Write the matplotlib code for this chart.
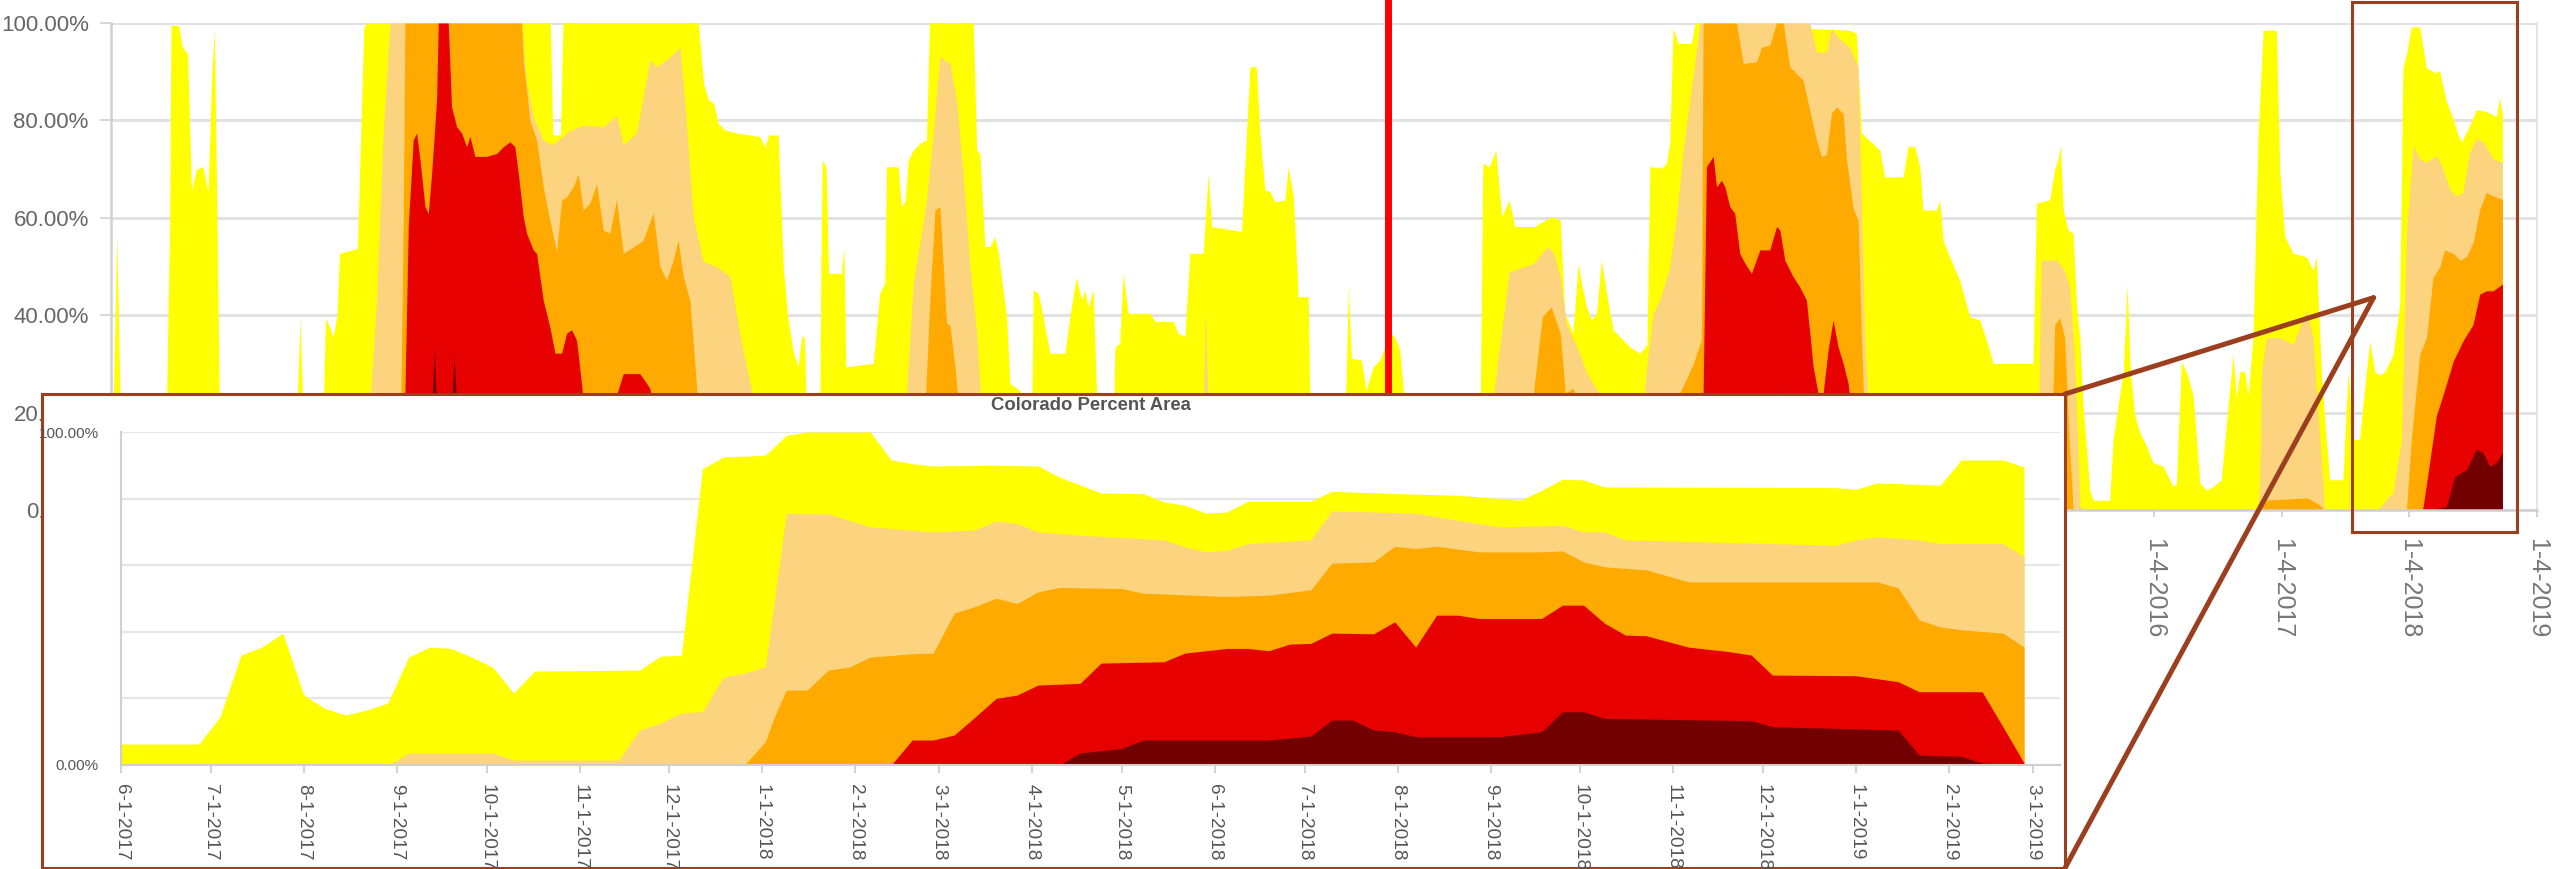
import matplotlib
matplotlib.use("Agg")
import matplotlib.pyplot as plt
import pandas as pd
from matplotlib.patches import Rectangle, ConnectionPatch

plt.rcParams['font.family'] = ['Liberation Sans', 'DejaVu Sans']

# ---------------- data ----------------
CATEGORIES = ['D0-D4', 'D1-D4', 'D2-D4', 'D3-D4', 'D4']
COLORS = ['#FFFF00', '#FCD37F', '#FFAA00', '#E60000', '#730000']

# Main chart: cumulative percent area, x in decimal years
main_d0_year = [2000.00, 2000.02, 2000.045, 2000.07, 2000.09, 2000.43, 2000.46, 2000.47, 2000.53, 2000.56,
                2000.60, 2000.63, 2000.67, 2000.72, 2000.76, 2000.79, 2000.81, 2000.83, 2000.85, 2001.45,
                2001.48, 2001.51, 2001.66, 2001.68, 2001.72, 2001.74, 2001.77, 2001.79, 2001.93, 2001.98,
                2002.00, 2003.44, 2003.46, 2003.52, 2003.54, 2004.60, 2004.64, 2004.68, 2004.72, 2004.755,
                2004.81, 2004.90, 2005.08, 2005.12, 2005.15, 2005.225, 2005.265, 2005.30, 2005.34, 2005.38,
                2005.41, 2005.43, 2005.45, 2005.55, 2005.56, 2005.57, 2005.60, 2005.62, 2005.72, 2005.74,
                2005.755, 2005.97, 2006.02, 2006.06, 2006.074, 2006.165, 2006.19, 2006.22, 2006.244, 2006.283,
                2006.335, 2006.387, 2006.41, 2006.753, 2006.78, 2006.805, 2006.844, 2006.883, 2006.922, 2006.95,
                2007.014, 2007.04, 2007.118, 2007.17, 2007.21, 2007.222, 2007.262, 2007.30, 2007.353, 2007.47,
                2007.51, 2007.56, 2007.60, 2007.627, 2007.653, 2007.692, 2007.73, 2007.85, 2007.862, 2007.90,
                2007.927, 2007.966, 2008.136, 2008.175, 2008.32, 2008.358, 2008.41, 2008.45, 2008.554, 2008.593,
                2008.62, 2008.854, 2008.893, 2008.92, 2008.97, 2008.998, 2009.037, 2009.076, 2009.115, 2009.193,
                2009.22, 2009.26, 2009.298, 2009.376, 2009.394, 2009.663, 2009.69, 2009.715, 2009.793, 2009.83,
                2009.885, 2009.937, 2010.015, 2010.054, 2010.094, 2010.136, 2010.723, 2010.744, 2010.793, 2010.846,
                2010.891, 2010.95, 2010.996, 2011.143, 2011.283, 2011.35, 2011.386, 2011.45, 2011.49, 2011.517,
                2011.556, 2011.595, 2011.634, 2011.673, 2011.712, 2011.765, 2011.895, 2011.973, 2012.03, 2012.052,
                2012.143, 2012.182, 2012.208, 2012.234, 2012.274, 2012.378, 2012.404, 2013.618, 2013.67, 2013.709,
                2013.853, 2013.892, 2014.035, 2014.074, 2014.127, 2014.166, 2014.192, 2014.296, 2014.322, 2014.349,
                2014.388, 2014.479, 2014.557, 2014.636, 2014.688, 2014.74, 2015.053, 2015.08, 2015.184, 2015.223,
                2015.25, 2015.268, 2015.289, 2015.328, 2015.367, 2015.393, 2015.419, 2015.445, 2015.497, 2015.524,
                2015.654, 2015.68, 2015.72, 2015.76, 2015.79, 2015.816, 2015.85, 2015.89, 2015.94, 2015.993,
                2016.072, 2016.15, 2016.176, 2016.215, 2016.254, 2016.307, 2016.36, 2016.411, 2016.463, 2016.528,
                2016.568, 2016.62, 2016.646, 2016.672, 2016.711, 2016.737, 2016.776, 2016.816, 2016.855, 2016.959,
                2016.985, 2017.024, 2017.09, 2017.194, 2017.246, 2017.272, 2017.311, 2017.35, 2017.377, 2017.48,
                2017.52, 2017.559, 2017.61, 2017.65, 2017.69, 2017.73, 2017.768, 2017.807, 2017.873, 2017.925,
                2017.95, 2017.977, 2018.016, 2018.081, 2018.134, 2018.2, 2018.238, 2018.29, 2018.343, 2018.382,
                2018.41, 2018.473, 2018.525, 2018.603, 2018.682, 2018.708, 2018.729]
main_d0_pct = [18, 25, 56, 25, 15, 15, 60, 99.5, 99.5, 95,
               93.7, 65.7, 70, 70.5, 65.4, 90, 98.5, 60, 20, 15,
               39.3, 15, 18, 39.5, 37, 35.5, 40, 52.7, 53.7, 99,
               100, 100, 77, 77, 100, 100, 87.6, 84.2, 83.5, 79.4,
               78, 77.4, 76.7, 74.6, 77, 77, 50, 39.7, 32.9, 29.4,
               35.6, 35.6, 18, 15, 50, 71.9, 70.5, 48.6, 48.6, 54,
               29.4, 30.1, 44.5, 46.5, 70.5, 70.5, 62.3, 63.6, 71.9, 73.9,
               75.3, 76, 100, 100, 73.9, 73.2, 54.1, 54.1, 56.1, 52.7,
               39.7, 26, 24.6, 15, 15, 45.2, 44.5, 39.7, 32.2, 32.2,
               39.7, 47.9, 43.1, 45.2, 41.7, 45.2, 15, 15, 33.5, 34.2,
               48.6, 40.4, 40.4, 38.7, 38.7, 36.3, 35.6, 52.7, 52.7, 69.1,
               58.2, 57.2, 77.4, 91, 91, 77.4, 65.7, 65.4, 63.3, 63.6,
               70.5, 64.3, 43.8, 43.8, 15, 15, 45.8, 31.1, 30.8, 24.6,
               29.4, 30.8, 36.3, 35.6, 32.8, 20, 20, 71.2, 70.5, 73.9,
               60.2, 63.6, 58.2, 58.2, 60.2, 59.5, 40.4, 36.3, 50.7, 46.5,
               41.7, 39, 40.4, 51.3, 44.5, 37, 33.5, 32.2, 34, 70.5,
               70.2, 71.2, 75.3, 98.9, 95.8, 95.8, 100, 98.5, 97.9, 77.4,
               73.9, 68.4, 68.4, 74.6, 74.6, 70.5, 61.6, 61.6, 63.6, 55.4,
               52.7, 47.2, 39.7, 39, 34.9, 30.1, 30.1, 63, 63.7, 70,
               72.1, 74.9, 61.7, 57.5, 56.8, 42.3, 35.4, 21.5, 4.1, 2,
               2, 14.5, 21.5, 28.4, 46.4, 28.4, 19.4, 15.9, 13.2, 9.7,
               9, 4.8, 5.5, 30.5, 28.4, 23.5, 5.5, 4.1, 4.8, 6.2,
               18, 31.9, 22.9, 28.4, 28.4, 23.5, 35.4, 77, 98.5, 98.5,
               70, 56.2, 52.7, 52, 49.2, 52, 28.4, 14.5, 6.2, 6.2,
               28.4, 14.5, 14.5, 25, 34.7, 28.4, 27.7, 28.4, 31.9, 42.3,
               90.8, 93.6, 99.2, 99.2, 90.8, 89.8, 90.2, 83.9, 80.4, 77,
               75.6, 79, 82.2, 81.8, 80.8, 84.6, 81]

main_d1_year = [2000.00, 2000.45, 2000.50, 2000.85, 2000.90, 2001.90, 2001.96, 2002.028, 2002.08, 2002.132,
                2002.185, 2003.216, 2003.255, 2003.307, 2003.385, 2003.458, 2003.594, 2003.698, 2003.855, 2003.959,
                2004.012, 2004.116, 2004.22, 2004.273, 2004.377, 2004.455, 2004.494, 2004.56, 2004.638, 2004.742,
                2004.847, 2004.925, 2004.977, 2005.056, 2005.16, 2005.42, 2006.20, 2006.23, 2006.283, 2006.335,
                2006.387, 2006.44, 2006.492, 2006.57, 2006.622, 2006.675, 2006.727, 2006.78, 2006.818, 2006.883,
                2007.066, 2008.53, 2008.545, 2008.57, 2008.61, 2008.63, 2010.78, 2010.83, 2010.95, 2011.14,
                2011.25, 2011.30, 2011.35, 2011.40, 2011.49, 2011.56, 2011.70, 2012.00, 2012.03, 2012.078,
                2012.13, 2012.208, 2012.26, 2012.313, 2012.365, 2012.417, 2012.443, 2013.305, 2013.357, 2013.435,
                2013.474, 2013.526, 2013.618, 2013.683, 2013.709, 2013.735, 2013.761, 2013.96, 2014.35, 2014.48,
                2014.74, 2015.09, 2015.115, 2015.24, 2015.30, 2015.34, 2015.367, 2015.393, 2015.42, 2015.45,
                2016.816, 2016.83, 2016.842, 2016.88, 2016.985, 2017.09, 2017.194, 2017.246, 2017.311, 2017.337,
                2017.75, 2017.85, 2017.873, 2017.938, 2017.977, 2018.03, 2018.081, 2018.134, 2018.212, 2018.264,
                2018.316, 2018.368, 2018.42, 2018.473, 2018.525, 2018.577, 2018.656, 2018.729]
main_d1_pct = [0, 0, 12, 8, 0, 0, 12, 22, 43, 77.4,
               100, 100, 87.6, 80.8, 76, 75, 78, 79, 78.7, 81,
               75, 77.4, 92.4, 91, 93, 95, 84, 60, 51, 50,
               48, 36, 29.4, 20, 10, 0, 0, 24, 46.5, 54.7,
               63.7, 77.4, 93.1, 91.7, 84.2, 68.4, 50, 36.3, 20, 5,
               0, 0, 5, 42, 5, 0, 0, 24, 48.9, 50.6,
               54.1, 52.7, 47.9, 38, 33, 28, 22, 22, 30, 40.4,
               43.1, 50, 60.2, 73.9, 84.2, 94.5, 100, 100, 94, 94,
               99, 97, 95, 91, 63, 36, 22, 15, 12, 5,
               2, 5, 51.3, 51.3, 49.2, 45.8, 35.4, 21.5, 0.7, 0,
               0, 7.6, 28.4, 35.4, 35.4, 34, 41, 35.4, 10, 0,
               0, 3, 3.5, 14.5, 56.2, 74.9, 72.1, 71.4, 72.8, 70,
               65.9, 64.5, 65.2, 73.5, 76.3, 75.6, 72.1, 71.4]

main_d2_year = [2000.00, 2002.25, 2002.263, 2002.289, 2002.302, 2003.216, 2003.229, 2003.281, 2003.333, 2003.385,
                2003.437, 2003.49, 2003.529, 2003.568, 2003.62, 2003.659, 2003.698, 2003.75, 2003.803, 2003.855,
                2003.907, 2003.959, 2004.012, 2004.09, 2004.168, 2004.246, 2004.299, 2004.351, 2004.403, 2004.442,
                2004.481, 2004.534, 2004.573, 2004.612, 2004.70, 2004.80, 2006.30, 2006.348, 2006.413, 2006.453,
                2006.492, 2006.518, 2006.544, 2006.57, 2006.61, 2006.66, 2006.72, 2011.10, 2011.14, 2011.21,
                2011.28, 2011.35, 2011.39, 2011.45, 2011.60, 2011.80, 2012.00, 2012.287, 2012.391, 2012.456,
                2012.469, 2012.73, 2012.783, 2012.887, 2012.926, 2012.991, 2013.044, 2013.096, 2013.148, 2013.252,
                2013.305, 2013.357, 2013.396, 2013.435, 2013.474, 2013.513, 2013.566, 2013.592, 2013.644, 2013.683,
                2013.709, 2013.727, 2013.80, 2014.00, 2014.50, 2015.00, 2015.20, 2015.223, 2015.263, 2015.30,
                2015.336, 2015.367, 2016.80, 2016.85, 2017.20, 2017.30, 2017.33, 2017.977, 2018.016, 2018.081,
                2018.134, 2018.186, 2018.238, 2018.277, 2018.343, 2018.395, 2018.447, 2018.499, 2018.551, 2018.603,
                2018.656, 2018.729]
main_d2_pct = [0, 0, 10, 60, 100, 100, 92, 80, 76, 66.4,
               59.5, 53, 63.7, 64.3, 66.4, 69, 61.6, 63, 67, 57.5,
               56.8, 63.7, 52.7, 54, 55.4, 61, 50, 47.2, 51.3, 55.4,
               48, 43, 30, 15, 5, 0, 0, 5, 43.1, 61.6,
               62.3, 50, 38.3, 38, 29.4, 15, 0, 0, 24, 39.7,
               41.7, 36.3, 24, 25, 15, 8, 8, 24, 30, 35,
               100, 100, 91.7, 92, 95, 95.5, 100, 100, 91, 88.3,
               82, 76, 72.6, 73, 81.5, 82.8, 81.4, 72, 62, 59.5,
               36, 22, 15, 8, 3, 2, 15, 38.1, 39.5, 35.4,
               14.5, 0, 0, 2, 2.5, 1, 0, 0, 14.5, 31.9,
               35.4, 47.8, 49.9, 53.4, 52.7, 51.3, 52, 54.8, 61.7, 65.2,
               64.5, 63.8]

main_d3_year = [2000.00, 2002.29, 2002.302, 2002.328, 2002.367, 2002.393, 2002.42, 2002.459, 2002.485, 2002.511,
                2002.55, 2002.563, 2002.641, 2002.667, 2002.707, 2002.746, 2002.785, 2002.811, 2002.85, 2002.942,
                2003.02, 2003.072, 2003.124, 2003.163, 2003.19, 2003.229, 2003.255, 2003.307, 2003.333, 2003.385,
                2003.437, 2003.477, 2003.529, 2003.568, 2003.607, 2003.646, 2003.685, 2003.711, 2003.855, 2004.012,
                2004.142, 2004.22, 2004.30, 2004.50, 2004.60, 2012.46, 2012.469, 2012.495, 2012.548, 2012.574,
                2012.613, 2012.639, 2012.678, 2012.717, 2012.756, 2012.796, 2012.848, 2012.913, 2012.991, 2013.044,
                2013.07, 2013.109, 2013.174, 2013.226, 2013.278, 2013.305, 2013.331, 2013.37, 2013.409, 2013.448,
                2013.487, 2013.526, 2013.566, 2013.605, 2013.631, 2013.70, 2013.80, 2018.10, 2018.108, 2018.147,
                2018.212, 2018.264, 2018.343, 2018.42, 2018.499, 2018.551, 2018.603, 2018.656, 2018.729]
main_d3_pct = [0, 0, 24, 58.2, 76, 77.4, 71.9, 62.3, 60.9, 69.1,
               84.2, 100, 100, 82.8, 78.7, 77.4, 74.6, 76.7, 72.6, 72.6,
               73.2, 74.6, 75.6, 74.6, 69.1, 60.2, 56.8, 53.4, 52.7, 43.1,
               37.6, 32.2, 32.2, 36.3, 37, 34.9, 26, 18, 15, 28,
               28, 25, 15, 5, 0, 0, 24, 70.5, 72.6, 66.4,
               67.7, 66.4, 62.3, 60.9, 52.7, 50.7, 48.6, 53.4, 53.4, 58.2,
               57.5, 51.3, 47.9, 45.8, 43.1, 36.3, 29.4, 24, 24, 32.9,
               39, 33.5, 30.1, 26, 20, 5, 0, 0, 0.7, 7.6,
               19.4, 23.6, 30.5, 34.7, 38.1, 44.3, 45, 45, 46.4]

main_d4_year = [2000.00, 2002.50, 2002.511, 2002.532, 2002.55, 2002.667, 2002.686, 2002.712, 2002.80, 2003.00,
                2013.05, 2013.09, 2013.12, 2013.15, 2013.25, 2018.16, 2018.29, 2018.356, 2018.447, 2018.525,
                2018.577, 2018.63, 2018.682, 2018.729]
main_d4_pct = [0, 0, 20, 33.5, 20, 20, 31.5, 20, 10, 0,
               0, 15, 25, 15, 0, 0, 0.7, 6.9, 8.3, 12.5,
               11.8, 9, 9.7, 11.8]

# Inset chart: Colorado percent area, Jun 2017 - Feb 2019
inset_d0_date = ['2017-06-01', '2017-06-27', '2017-07-04', '2017-07-11', '2017-07-18', '2017-07-25', '2017-08-01',
                 '2017-08-08', '2017-08-15', '2017-08-22', '2017-08-29', '2017-09-05', '2017-09-12', '2017-09-19',
                 '2017-09-26', '2017-10-03', '2017-10-10', '2017-10-17', '2017-11-21', '2017-11-28', '2017-12-05',
                 '2017-12-12', '2017-12-19', '2018-01-02', '2018-01-09', '2018-01-16', '2018-02-06', '2018-02-13',
                 '2018-02-20', '2018-02-27', '2018-03-20', '2018-04-03', '2018-04-10', '2018-04-24', '2018-05-08',
                 '2018-05-15', '2018-05-22', '2018-05-29', '2018-06-05', '2018-06-12', '2018-07-03', '2018-07-10',
                 '2018-07-31', '2018-08-21', '2018-09-11', '2018-09-18', '2018-09-25', '2018-10-02', '2018-10-09',
                 '2018-12-25', '2019-01-01', '2019-01-08', '2019-01-29', '2019-02-05', '2019-02-19', '2019-02-26']
inset_d0_pct = [6.3, 6.3, 14.4, 33.0, 35.4, 39.6, 21.0,
                17.0, 15.0, 16.5, 18.6, 32.4, 35.4, 35.0,
                32.4, 29.4, 21.6, 28.2, 28.5, 32.7, 32.9,
                89.0, 92.5, 93.0, 99.0, 100, 100, 91.6,
                90.5, 89.8, 90.0, 89.8, 86.5, 81.7, 81.5,
                79.0, 78.0, 75.6, 76.0, 79.2, 79.2, 82.2,
                81.5, 81.0, 79.5, 82.5, 85.8, 85.6, 83.5,
                83.3, 82.8, 84.7, 84.0, 91.6, 91.6, 89.5]

inset_d1_date = ['2017-06-01', '2017-08-29', '2017-09-05', '2017-10-03', '2017-10-10', '2017-11-14', '2017-11-21',
                 '2017-11-28', '2017-12-05', '2017-12-12', '2017-12-19', '2017-12-26', '2018-01-02', '2018-01-09',
                 '2018-01-23', '2018-02-06', '2018-02-27', '2018-03-13', '2018-03-20', '2018-03-27', '2018-04-03',
                 '2018-04-17', '2018-05-15', '2018-05-22', '2018-05-29', '2018-06-05', '2018-06-12', '2018-07-03',
                 '2018-07-10', '2018-07-24', '2018-08-07', '2018-08-21', '2018-09-04', '2018-09-25', '2018-10-02',
                 '2018-10-09', '2018-10-16', '2018-12-25', '2019-01-01', '2019-01-08', '2019-01-22', '2019-01-29',
                 '2019-02-19', '2019-02-26']
inset_d1_pct = [0, 0, 3.6, 3.6, 1.5, 1.5, 10.5,
                12.6, 15.6, 16.0, 26.4, 27.6, 29.5, 75.6,
                75.4, 71.5, 70.0, 70.6, 73.3, 72.5, 70.0,
                69.0, 67.6, 65.5, 64.0, 64.5, 66.5, 67.6,
                76.3, 76.0, 75.6, 73.5, 71.5, 72.0, 70.0,
                70.0, 67.6, 66.0, 67.6, 68.5, 67.6, 66.5,
                66.5, 62.5]

inset_d2_date = ['2017-06-01', '2017-12-26', '2018-01-02', '2018-01-05', '2018-01-09', '2018-01-16', '2018-01-23',
                 '2018-01-30', '2018-02-06', '2018-02-20', '2018-02-27', '2018-03-06', '2018-03-13', '2018-03-20',
                 '2018-03-27', '2018-04-03', '2018-04-10', '2018-05-01', '2018-05-08', '2018-06-05', '2018-06-19',
                 '2018-07-03', '2018-07-10', '2018-07-24', '2018-07-31', '2018-08-07', '2018-08-14', '2018-08-28',
                 '2018-09-18', '2018-09-25', '2018-10-02', '2018-10-09', '2018-10-23', '2018-11-06', '2019-01-08',
                 '2019-01-15', '2019-01-22', '2019-01-29', '2019-02-05', '2019-02-19', '2019-02-26']
inset_d2_pct = [0, 0, 7.0, 14.4, 22.5, 22.5, 28.5,
                29.4, 32.4, 33.4, 33.6, 45.6, 47.6, 50.1,
                48.5, 52.0, 53.3, 53.0, 51.6, 50.6, 51.0,
                52.6, 60.6, 61.0, 65.7, 65.0, 65.7, 64.0,
                64.0, 64.3, 61.0, 59.5, 58.6, 55.0, 55.0,
                53.2, 43.6, 41.5, 40.6, 39.6, 35.4]

inset_d3_date = ['2017-06-01', '2018-02-13', '2018-02-20', '2018-02-27', '2018-03-06', '2018-03-13', '2018-03-20',
                 '2018-03-27', '2018-04-03', '2018-04-17', '2018-04-24', '2018-05-15', '2018-05-22', '2018-06-05',
                 '2018-06-12', '2018-06-19', '2018-06-26', '2018-07-03', '2018-07-10', '2018-07-24', '2018-07-31',
                 '2018-08-07', '2018-08-14', '2018-08-21', '2018-08-28', '2018-09-18', '2018-09-25', '2018-10-02',
                 '2018-10-09', '2018-10-16', '2018-10-23', '2018-11-06', '2018-11-20', '2018-11-27', '2018-12-04',
                 '2019-01-01', '2019-01-15', '2019-01-22', '2019-02-12', '2019-02-19', '2019-02-26']
inset_d3_pct = [0, 0, 7.5, 7.5, 9.0, 14.4, 20.0,
                21.0, 24.0, 24.5, 30.6, 31.0, 33.6, 35.0,
                35.0, 34.3, 36.3, 36.5, 39.6, 39.4, 43.0,
                35.4, 45.0, 45.0, 44.0, 44.0, 48.0, 48.0,
                42.6, 39.0, 38.8, 35.4, 34.0, 33.0, 27.0,
                26.8, 25.0, 22.0, 22.0, 11.4, 0.6]

inset_d4_date = ['2017-06-01', '2018-04-10', '2018-04-17', '2018-05-01', '2018-05-08', '2018-06-19', '2018-07-03',
                 '2018-07-10', '2018-07-17', '2018-07-24', '2018-07-31', '2018-08-07', '2018-09-04', '2018-09-18',
                 '2018-09-25', '2018-10-02', '2018-10-09', '2018-11-27', '2018-12-04', '2019-01-15', '2019-01-22',
                 '2019-02-05', '2019-02-12', '2019-02-26']
inset_d4_pct = [0, 0, 3.6, 5.0, 7.5, 7.5, 8.7,
                13.5, 13.5, 10.5, 10.0, 8.5, 8.5, 10.0,
                16.0, 16.0, 14.0, 13.3, 11.5, 10.5, 3.0,
                2.6, 0.6, 0.0]

MAIN_TICK_YEARS = list(range(2000, 2020))
MAIN_TICK_LABELS = [f'1-4-{y}' for y in MAIN_TICK_YEARS]
Y_TICKS = [0, 20, 40, 60, 80, 100]
INSET_TITLE = 'Colorado Percent Area'
EVENT_YEAR = 2010.0            # red marker line
ZOOM_START, ZOOM_END = 2017.55, 2018.84   # highlighted period on the main chart
CALLOUT_APEX = (2017.72, 43.6)
INSET_START, INSET_END = '2017-06-01', '2019-03-10'

# ---------------- figure ----------------
W, H = 2560, 869
fig = plt.figure(figsize=(W / 100, H / 100), dpi=100)
fig.patch.set_facecolor('white')
BROWN = '#9C3F1E'

def px_rect(x0, y0, x1, y1):
    return [x0 / W, 1 - y1 / H, (x1 - x0) / W, (y1 - y0) / H]

# main chart
ax = fig.add_axes(px_rect(111, 23, 2537, 510))
ax.set_zorder(1)
main_series = [(main_d0_year, main_d0_pct), (main_d1_year, main_d1_pct), (main_d2_year, main_d2_pct),
               (main_d3_year, main_d3_pct), (main_d4_year, main_d4_pct)]
for (xs, ys), c, name in zip(main_series, COLORS, CATEGORIES):
    ax.fill_between(xs, 0, ys, color=c, lw=0, label=name, zorder=2)
ax.set_xlim(2000, 2019)
ax.set_ylim(0, 100)
ax.set_yticks(Y_TICKS)
ax.set_yticklabels([f'{v:.2f}%' for v in Y_TICKS], fontsize=16, color='#666666')
ax.set_xticks(MAIN_TICK_YEARS)
ax.set_xticklabels(MAIN_TICK_LABELS, rotation=-90, fontsize=18, color='#777777', ha='center', va='top')
ax.tick_params(axis='y', length=8, width=1.5, color='#d8d8d8', pad=8)
ax.tick_params(axis='x', length=5, width=1.2, color='#cccccc', pad=15)
ax.set_axisbelow(True)
ax.grid(axis='y', color='#e2e2e2', lw=2.2)
for s in ['left', 'bottom']:
    ax.spines[s].set_color('#d0d0d0')
    ax.spines[s].set_linewidth(1.8)
ax.spines['right'].set_color('#e4e4e4')
ax.spines['right'].set_linewidth(1.5)
ax.spines['top'].set_visible(False)

# red marker line
ax.plot([EVENT_YEAR, EVENT_YEAR], [-10, 105], color='#FF0000', lw=5, clip_on=False, zorder=6,
        solid_capstyle='butt')
# zoom box
ax.add_patch(Rectangle((ZOOM_START, -4.5), ZOOM_END - ZOOM_START, 108.8, fill=False,
                       edgecolor=BROWN, lw=2.2, clip_on=False, zorder=7))

# inset frame
frame = fig.add_axes(px_rect(42, 394, 2065, 868))
frame.set_zorder(2)
frame.set_facecolor('white')
frame.set_xticks([])
frame.set_yticks([])
for s in frame.spines.values():
    s.set_color(BROWN)
    s.set_linewidth(2.2)

# inset chart
ins = fig.add_axes(px_rect(121, 432, 2060, 765))
ins.set_zorder(3)
ins.set_facecolor('none')
inset_series = [(inset_d0_date, inset_d0_pct), (inset_d1_date, inset_d1_pct), (inset_d2_date, inset_d2_pct),
                (inset_d3_date, inset_d3_pct), (inset_d4_date, inset_d4_pct)]
for (ds, ys), c in zip(inset_series, COLORS):
    ins.fill_between(pd.to_datetime(ds), 0, ys, color=c, lw=0, zorder=2)
ins.set_xlim(pd.Timestamp(INSET_START), pd.Timestamp(INSET_END))
ins.set_ylim(0, 100)
months = pd.date_range('2017-06-01', '2019-03-01', freq='MS')
ins.set_xticks(months)
ins.set_xticklabels([f'{d.month}-1-{d.year}' for d in months], rotation=-90, fontsize=13.7,
                    color='#555555', ha='center', va='top')
ins.set_yticks(Y_TICKS)
ins.set_yticklabels(['0.00%', '', '', '', '', '100.00%'], fontsize=11, color='#555555')
ins.tick_params(axis='x', length=6, width=1.2, color='#cccccc', pad=8)
ins.tick_params(axis='y', length=0, pad=16)
ins.set_axisbelow(True)
ins.grid(axis='y', color='#e6e6e6', lw=1.6)
for s in ['left', 'bottom']:
    ins.spines[s].set_color('#d0d0d0')
    ins.spines[s].set_linewidth(1.5)
for s in ['top', 'right']:
    ins.spines[s].set_visible(False)
ins.set_title(INSET_TITLE, fontsize=13.3, fontweight='bold', color='#555555', pad=16)

# callout lines from the inset frame to the zoomed period
for corner in [(1, 1), (1, 0)]:
    con = ConnectionPatch(xyA=corner, coordsA=frame.transAxes, xyB=CALLOUT_APEX, coordsB=ax.transData,
                          color=BROWN, lw=3.6, zorder=10)
    fig.add_artist(con)

fig.savefig('out.png', dpi=100, facecolor='white')
